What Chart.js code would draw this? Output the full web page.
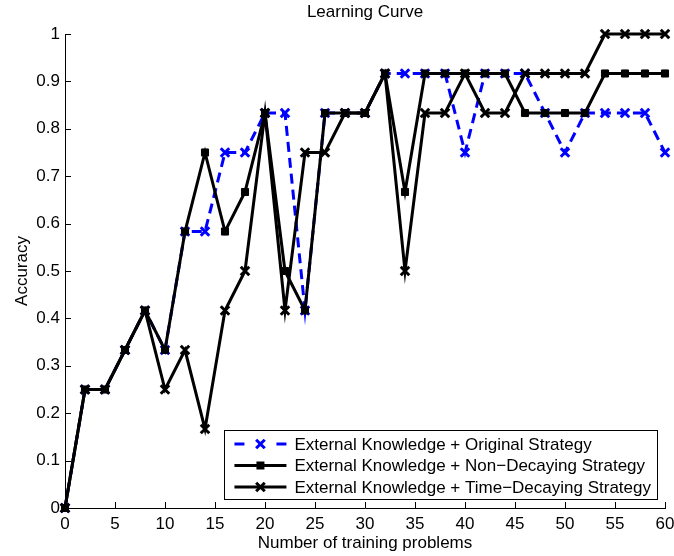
<!DOCTYPE html>
<html>
<head>
<meta charset="utf-8">
<script src="https://cdn.jsdelivr.net/npm/chart.js@4/dist/chart.umd.min.js"></script>
<style>
html,body{margin:0;padding:0;background:#fff;}
#wrap{width:674px;height:556px;}
</style>
</head>
<body>
<div id="wrap"><canvas id="c" width="674" height="556"></canvas></div>
<script>
// ---- data ----
const xValues = [0,2,4,6,8,10,12,14,16,18,20,22,24,26,28,30,32,34,36,38,40,42,44,46,48,50,52,54,56,58,60];
const originalStrategy = [0,0.25,0.25,0.3333,0.4167,0.3333,0.5833,0.5833,0.75,0.75,0.8333,0.8333,0.4167,0.8333,0.8333,0.8333,0.9167,0.9167,0.9167,0.9167,0.75,0.9167,0.9167,0.9167,0.8333,0.75,0.8333,0.8333,0.8333,0.8333,0.75];
const nonDecayingStrategy = [0,0.25,0.25,0.3333,0.4167,0.3333,0.5833,0.75,0.5833,0.6667,0.8333,0.5,0.4167,0.8333,0.8333,0.8333,0.9167,0.6667,0.9167,0.9167,0.9167,0.9167,0.9167,0.8333,0.8333,0.8333,0.8333,0.9167,0.9167,0.9167,0.9167];
const timeDecayingStrategy = [0,0.25,0.25,0.3333,0.4167,0.25,0.3333,0.1667,0.4167,0.5,0.8333,0.4167,0.75,0.75,0.8333,0.8333,0.9167,0.5,0.8333,0.8333,0.9167,0.8333,0.8333,0.9167,0.9167,0.9167,0.9167,1,1,1,1];
const seriesLabels = [
  'External Knowledge + Original Strategy',
  'External Knowledge + Non\u2212Decaying Strategy',
  'External Knowledge + Time\u2212Decaying Strategy'
];
const xTickValues = [0,5,10,15,20,25,30,35,40,45,50,55,60];
const xTickLabels = ['0','5','10','15','20','25','30','35','40','45','50','55','60'];
const yTickValues = [0,0.1,0.2,0.3,0.4,0.5,0.6,0.7,0.8,0.9,1];
const yTickLabels = ['0','0.1','0.2','0.3','0.4','0.5','0.6','0.7','0.8','0.9','1'];
const chartTitle = 'Learning Curve';
const xAxisTitle = 'Number of training problems';
const yAxisTitle = 'Accuracy';

// ---- styling ----
const FAM = '"Liberation Sans", Arial, Helvetica, sans-serif';
const FS = 17;
const BLUE = '#0000ff';

function pts(ys){ return xValues.map((x,i)=>({x:x, y:ys[i]})); }
function labelFor(values, labels, v){
  for (let i=0;i<values.length;i++){ if (Math.abs(values[i]-v) < 1e-6) return labels[i]; }
  return '';
}

const innerTicks = {
  id:'innerTicks',
  beforeDatasetsDraw(chart){
    const {ctx, chartArea:a, scales:{x, y}} = chart;
    ctx.save();
    ctx.strokeStyle = '#000';
    ctx.lineWidth = 1;
    ctx.beginPath();
    x.ticks.forEach(t=>{
      const px = Math.round(x.getPixelForValue(t.value)) + 0.5;
      ctx.moveTo(px, a.bottom); ctx.lineTo(px, a.bottom - 6);
    });
    y.ticks.forEach(t=>{
      const py = Math.round(y.getPixelForValue(t.value)) + 0.5;
      ctx.moveTo(a.left, py); ctx.lineTo(a.left + 6, py);
    });
    ctx.stroke();
    ctx.restore();
  }
};

function drawMarker(ctx, style, x, y, color){
  ctx.save();
  ctx.strokeStyle = color; ctx.fillStyle = color;
  if (style === 'x'){
    const h = 4.3;
    ctx.lineWidth = 3;
    ctx.beginPath();
    ctx.moveTo(x-h,y-h); ctx.lineTo(x+h,y+h);
    ctx.moveTo(x+h,y-h); ctx.lineTo(x-h,y+h);
    ctx.stroke();
  } else {
    ctx.fillRect(x-4, y-4, 8, 8);
  }
  ctx.restore();
}

const legendBox = {
  id:'legendBox',
  afterDraw(chart){
    const {ctx, chartArea:a} = chart;
    const ds = chart.data.datasets;
    ctx.save();
    ctx.font = FS + 'px ' + FAM;
    let tw = 0;
    ds.forEach(d=>{ tw = Math.max(tw, ctx.measureText(d.label).width); });
    const right = a.right - 8;
    const bottom = a.bottom - 9;
    const h = 69;
    const w = 70 + tw + 6;
    const left = right - w;
    const top = bottom - h;
    ctx.fillStyle = '#fff';
    ctx.fillRect(left, top, w, h);
    ctx.strokeStyle = '#000';
    ctx.lineWidth = 1;
    ctx.strokeRect(Math.round(left)+0.5, Math.round(top)+0.5, Math.round(w), Math.round(h));
    ds.forEach((d,i)=>{
      const yy = top + 14 + i*21.5;
      const x0 = left + 10, x1 = left + 62, xm = (x0+x1)/2;
      ctx.strokeStyle = d.borderColor;
      ctx.lineWidth = 3;
      ctx.beginPath();
      if (d.borderDash && d.borderDash.length){
        ctx.moveTo(x0, yy); ctx.lineTo(x0+10, yy);
        ctx.moveTo(x1-10, yy); ctx.lineTo(x1, yy);
      } else {
        ctx.moveTo(x0, yy); ctx.lineTo(x1, yy);
      }
      ctx.stroke();
      drawMarker(ctx, d.pointStyle === 'rect' ? 'sq' : 'x', xm, yy, d.borderColor);
      ctx.fillStyle = '#000';
      ctx.textBaseline = 'middle';
      ctx.textAlign = 'left';
      ctx.fillText(d.label, left + 70, yy + 1);
    });
    ctx.restore();
  }
};

const common = {borderWidth:3, tension:0, clip:false, fill:false, borderJoinStyle:'miter'};

new Chart(document.getElementById('c').getContext('2d'), {
  type:'line',
  data:{
    datasets:[
      Object.assign({}, common, {label:seriesLabels[0], data:pts(originalStrategy), borderColor:BLUE, backgroundColor:BLUE,
        borderDash:[10,6], pointStyle:'crossRot', pointRadius:6, pointBorderWidth:3, pointBorderColor:BLUE, pointBackgroundColor:BLUE, order:3}),
      Object.assign({}, common, {label:seriesLabels[1], data:pts(nonDecayingStrategy), borderColor:'#000', backgroundColor:'#000',
        pointStyle:'rect', pointRadius:5, pointBorderWidth:1, pointBorderColor:'#000', pointBackgroundColor:'#000', order:2}),
      Object.assign({}, common, {label:seriesLabels[2], data:pts(timeDecayingStrategy), borderColor:'#000', backgroundColor:'#000',
        pointStyle:'crossRot', pointRadius:6, pointBorderWidth:3, pointBorderColor:'#000', pointBackgroundColor:'#000', order:1})
    ]
  },
  options:{
    responsive:false,
    animation:false,
    devicePixelRatio:1,
    events:[],
    layout:{padding:{left:0, right:6, top:0, bottom:0}},
    plugins:{
      legend:{display:false},
      tooltip:{enabled:false},
      title:{display:true, fullSize:false, text:chartTitle, color:'#000', font:{family:FAM, size:FS, weight:'normal'}, padding:{top:2, bottom:11.6}}
    },
    scales:{
      x:{
        type:'linear', min:0, max:60,
        afterBuildTicks:(s)=>{ s.ticks = xTickValues.map(v=>({value:v})); },
        ticks:{color:'#000', font:{family:FAM, size:FS}, padding:6, maxRotation:0, autoSkip:false,
          callback:(v)=>labelFor(xTickValues, xTickLabels, v)},
        grid:{display:false, drawTicks:false},
        border:{display:true, color:'#000', width:1},
        title:{display:true, text:xAxisTitle, color:'#000', font:{family:FAM, size:FS}, padding:{top:0, bottom:2}},
        afterFit:(s)=>{ s.height = 48; s.paddingLeft = 0; s.paddingRight = 0; }
      },
      y:{
        type:'linear', min:0, max:1,
        afterBuildTicks:(s)=>{ s.ticks = yTickValues.map(v=>({value:v})); },
        ticks:{color:'#000', font:{family:FAM, size:FS}, padding:5, autoSkip:false,
          callback:(v)=>labelFor(yTickValues, yTickLabels, v)},
        grid:{display:false, drawTicks:false},
        border:{display:true, color:'#000', width:1},
        title:{display:true, text:yAxisTitle, color:'#000', font:{family:FAM, size:FS}, padding:{top:12, bottom:0}},
        afterFit:(s)=>{ s.width = 65; s.paddingTop = 0; s.paddingBottom = 0; }
      }
    }
  },
  plugins:[innerTicks, legendBox]
});
</script>
</body>
</html>
